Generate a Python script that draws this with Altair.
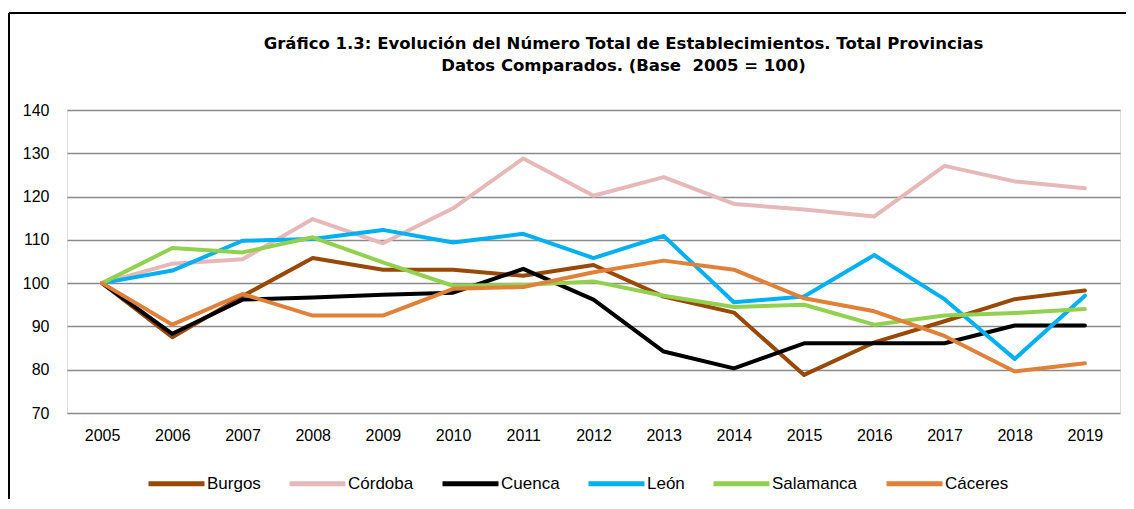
import altair as alt
import pandas as pd

years = [str(y) for y in range(2005, 2020)]

burgos    = [100, 87.5, 97.0, 105.8, 103.1, 103.1, 101.7, 104.2, 96.9, 93.2, 78.8, 86.3, 91.2, 96.3, 98.3]
cordoba   = [100, 104.5, 105.5, 114.8, 109.2, 117.3, 128.8, 120.2, 124.5, 118.3, 117.0, 115.4, 127.1, 123.5, 121.9]
cuenca    = [100, 88.3, 96.2, 96.7, 97.3, 97.8, 103.3, 96.2, 84.2, 80.3, 86.1, 86.1, 86.1, 90.2, 90.2]
leon      = [100, 102.9, 109.8, 110.2, 112.3, 109.4, 111.4, 105.8, 110.9, 95.6, 96.9, 106.5, 96.3, 82.5, 97.1]
salamanca = [100, 108.1, 107.1, 110.6, 104.8, 99.4, 99.6, 100.4, 97.1, 94.5, 95.0, 90.4, 92.5, 93.1, 94.0]
caceres   = [100, 90.4, 97.5, 92.5, 92.5, 98.7, 99.1, 102.5, 105.2, 103.1, 96.5, 93.5, 87.8, 79.6, 81.5]

series_names = ["Burgos", "Córdoba", "Cuenca", "León", "Salamanca", "Cáceres"]
series_values = [burgos, cordoba, cuenca, leon, salamanca, caceres]
series_colors = ["#984807", "#E6B9B8", "#000000", "#00B0F0", "#92D050", "#E0813A"]

y_ticks = [70, 80, 90, 100, 110, 120, 130, 140]

title_lines = [
    "Gráfico 1.3: Evolución del Número Total de Establecimientos. Total Provincias",
    "Datos Comparados. (Base \u00a02005 = 100)",
]

rows = []
for name, vals in zip(series_names, series_values):
    for yr, v in zip(years, vals):
        rows.append({"Año": yr, "Valor": v, "Provincia": name})
df = pd.DataFrame(rows)

W, H = 1053, 303
AXIS_FONT = "Liberation Sans Narrow, Arial Narrow, Liberation Sans"

lines = alt.Chart(df).mark_line(strokeWidth=4, strokeCap="round", strokeJoin="round").encode(
    x=alt.X("Año:O", sort=years, title=None,
            scale=alt.Scale(type="point", padding=0.5),
            axis=alt.Axis(labelAngle=0, ticks=False, domain=False, grid=False,
                          labelPadding=14, labelFontSize=16, labelFont=AXIS_FONT,
                          labelColor="#000000")),
    y=alt.Y("Valor:Q", title=None,
            scale=alt.Scale(domain=[70, 140], nice=False, zero=False),
            axis=alt.Axis(values=y_ticks, ticks=False, domain=False, grid=True,
                          gridColor="#8a8a8a", gridWidth=1.5, labelPadding=18,
                          labelFontSize=16, labelFont=AXIS_FONT,
                          labelColor="#000000")),
    color=alt.Color("Provincia:N", sort=series_names,
                    scale=alt.Scale(domain=series_names, range=series_colors),
                    legend=alt.Legend(title=None, orient="none", direction="horizontal",
                                      legendX=79, legendY=343,
                                      symbolType="stroke", symbolSize=3136,
                                      symbolStrokeWidth=5, labelOffset=0,
                                      columnPadding=18, labelFontSize=17,
                                      labelFont="Liberation Sans", labelColor="#000000")),
    order=alt.Order("Año:O"),
)

frame_src = pd.DataFrame({"k": [0]})
frame_h = alt.Chart(frame_src).mark_rule(color="#000000", strokeWidth=2).encode(
    x=alt.value(-58), x2=alt.value(W + 10), y=alt.value(-97)
)
frame_v = alt.Chart(frame_src).mark_rule(color="#000000", strokeWidth=2).encode(
    x=alt.value(-58), y=alt.value(-97), y2=alt.value(H + 130)
)

chart = alt.layer(frame_h, frame_v, lines).properties(
    width=W, height=H,
    title=alt.Title(title_lines, anchor="middle", frame="group", dx=30, offset=-62,
                    font="DejaVu Sans", fontSize=16.5, fontWeight="bold",
                    color="#000000", lineHeight=22),
    autosize=alt.AutoSizeParams(type="none"),
    padding={"left": 59, "top": 102, "right": 6, "bottom": 86},
).configure_view(stroke="#868686", strokeWidth=2).configure(background="#ffffff")

chart.save("out.html", embed_options={"renderer": "svg", "actions": False})
